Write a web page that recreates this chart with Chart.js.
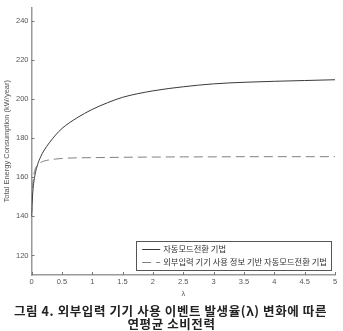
<!DOCTYPE html>
<html lang="ko">
<head>
    <meta charset="UTF-8">
    <title>연평균 소비전력</title>
    <script src="https://cdn.jsdelivr.net/npm/chart.js"></script>
    <style>
        html, body { margin: 0; padding: 0; background: #fff; }
        #chart-container { width: 343px; height: 331px; }
    </style>
</head>
<body>
    <div id="chart-container">
        <canvas id="myChart" width="343" height="331"></canvas>
    </div>

    <script>
        // event rate lambda
        var lambdas = [0, 0.02, 0.05, 0.1, 0.15, 0.2, 0.3, 0.4, 0.5, 0.75, 1, 1.25, 1.5, 2, 2.5, 3, 3.5, 4, 4.5, 5];
        // 자동모드전환 기법
        var autoMode = [140, 152, 160, 166.5, 170.5, 173.5, 178, 181.8, 185, 190.5, 194.8, 198.2, 201, 204.3, 206.4, 207.9, 208.7, 209.2, 209.6, 210];
        // 외부입력 기기 사용 정보 기반 자동모드전환 기법
        var infoMode = [140, 156, 163, 166.3, 167.6, 168.3, 169, 169.4, 169.7, 170, 170.1, 170.2, 170.3, 170.4, 170.5, 170.5, 170.6, 170.6, 170.6, 170.6];
        var yTicks = [120, 140, 160, 180, 200, 220, 240];
        var seriesNames = ['자동모드전환 기법', '외부입력 기기 사용 정보 기반 자동모드전환 기법'];
        var caption = ['그림 4. 외부입력 기기 사용 이벤트 발생율(λ) 변화에 따른', '연평균 소비전력'];

        function toPoints(ys) {
            return lambdas.map(function (x, i) { return { x: x, y: ys[i] }; });
        }

        var tickFont = { family: "'Liberation Sans', Arial, sans-serif", size: 7.5 };

        // inward tick marks, like the original figure
        var innerTicks = {
            id: 'innerTicks',
            afterDatasetsDraw: function (chart) {
                var ctx = chart.ctx, xs = chart.scales.x, ys = chart.scales.y;
                ctx.save();
                ctx.strokeStyle = '#777';
                ctx.lineWidth = 1;
                ctx.beginPath();
                xs.ticks.forEach(function (t) {
                    var px = Math.round(xs.getPixelForValue(t.value)) + 0.5;
                    ctx.moveTo(px, ys.bottom);
                    ctx.lineTo(px, ys.bottom - 3);
                });
                ys.ticks.forEach(function (t) {
                    var py = Math.round(ys.getPixelForValue(t.value)) + 0.5;
                    ctx.moveTo(xs.left, py);
                    ctx.lineTo(xs.left + 3, py);
                });
                ctx.stroke();
                ctx.restore();
            }
        };

        // boxed legend in the lower right corner of the plot
        var boxLegend = {
            id: 'boxLegend',
            afterDraw: function (chart) {
                var ctx = chart.ctx, area = chart.chartArea;
                ctx.save();
                ctx.font = "8.3px 'Noto Sans CJK KR', sans-serif";
                var textW = 0;
                seriesNames.forEach(function (n) { textW = Math.max(textW, ctx.measureText(n).width); });
                var lineW = 18, gap = 3, pad = 6, rowH = 12.5;
                var w = pad + lineW + gap + textW + 4;
                var h = 29;
                var x0 = area.right - 4 - w;
                var y0 = area.bottom - 5 - h;
                ctx.fillStyle = '#fff';
                ctx.fillRect(x0, y0, w, h);
                ctx.strokeStyle = '#555';
                ctx.lineWidth = 1;
                ctx.strokeRect(Math.round(x0) + 0.5, Math.round(y0) + 0.5, Math.round(w), Math.round(h));
                chart.data.datasets.forEach(function (ds, i) {
                    var cy = y0 + 8 + rowH * i;
                    ctx.strokeStyle = ds.borderColor;
                    ctx.setLineDash(ds.borderDash || []);
                    ctx.beginPath();
                    ctx.moveTo(x0 + pad, Math.round(cy) + 0.5);
                    ctx.lineTo(x0 + pad + lineW, Math.round(cy) + 0.5);
                    ctx.stroke();
                    ctx.setLineDash([]);
                    ctx.fillStyle = '#333';
                    ctx.textBaseline = 'middle';
                    ctx.fillText(seriesNames[i], x0 + pad + lineW + gap, cy);
                });
                ctx.restore();
            }
        };

        // figure caption under the axis (space is kept by layout padding)
        var figCaption = {
            id: 'figCaption',
            afterDraw: function (chart) {
                var ctx = chart.ctx;
                ctx.save();
                ctx.font = "bold 12.5px 'Noto Sans CJK KR', sans-serif";
                if ('letterSpacing' in ctx) ctx.letterSpacing = '0.6px';
                ctx.fillStyle = '#222';
                ctx.textAlign = 'center';
                ctx.textBaseline = 'middle';
                ctx.fillText(caption[0], chart.width / 2 - 1, chart.height - 20);
                ctx.fillText(caption[1], chart.width / 2, chart.height - 7);
                ctx.restore();
            }
        };

        var ctx = document.getElementById('myChart').getContext('2d');
        var chart = new Chart(ctx, {
            type: 'line',
            data: {
                datasets: [{
                    label: seriesNames[0],
                    data: toPoints(autoMode),
                    borderColor: '#3a3a3a',
                    borderWidth: 1,
                    pointRadius: 0,
                    cubicInterpolationMode: 'monotone',
                    fill: false
                }, {
                    label: seriesNames[1],
                    data: toPoints(infoMode),
                    borderColor: '#808080',
                    borderWidth: 1,
                    borderDash: [9, 5],
                    pointRadius: 0,
                    cubicInterpolationMode: 'monotone',
                    fill: false
                }]
            },
            options: {
                responsive: false,
                animation: false,
                layout: { padding: { top: 3, right: 8, left: 2, bottom: 33 } },
                plugins: {
                    legend: { display: false },
                    tooltip: { enabled: false },
                    title: { display: false }
                },
                scales: {
                    x: {
                        type: 'linear',
                        min: 0,
                        max: 5,
                        ticks: {
                            stepSize: 0.5,
                            font: tickFont,
                            color: '#555',
                            padding: 2,
                            maxRotation: 0,
                            callback: function (v) { return String(v); }
                        },
                        grid: { display: false, drawTicks: false },
                        border: { color: '#999', width: 1.5 },
                        title: { display: true, text: 'λ', font: tickFont, color: '#555', padding: { top: 1, bottom: 0 } }
                    },
                    y: {
                        min: 110,
                        max: 247,
                        afterBuildTicks: function (scale) {
                            scale.ticks = yTicks.map(function (v) { return { value: v }; });
                        },
                        ticks: { font: tickFont, color: '#555', padding: 3 },
                        grid: { display: false, drawTicks: false },
                        border: { color: '#999', width: 1.5 },
                        title: { display: true, text: 'Total Energy Consumption (kW/year)', font: tickFont, color: '#555', padding: { top: 0, bottom: 2 } }
                    }
                }
            },
            plugins: [innerTicks, boxLegend, figCaption]
        });
    </script>
</body>
</html>
